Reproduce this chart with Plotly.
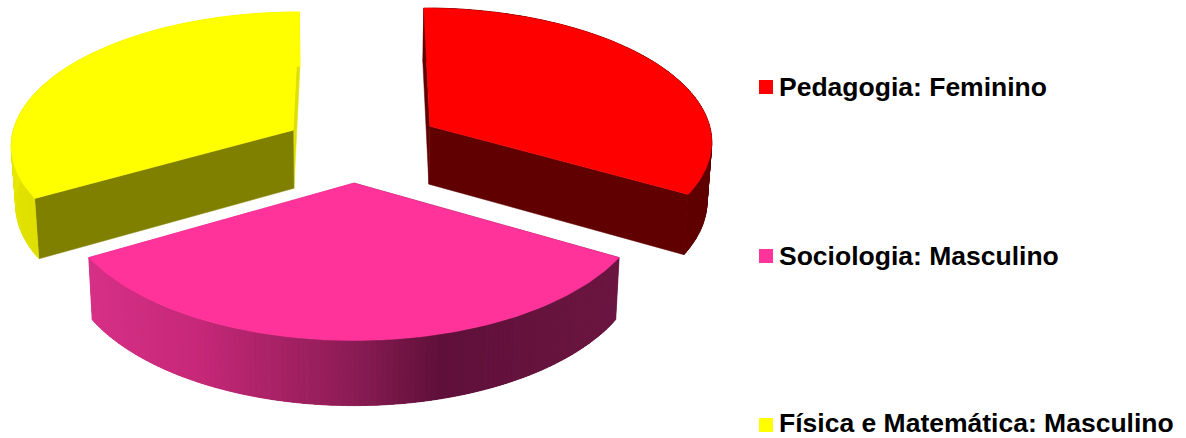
import math
import plotly.graph_objects as go

# Chart data
categories = ["Pedagogia: Feminino", "Sociologia: Masculino", "Física e Matemática: Masculino"]
values = [33.3, 33.3, 33.3]

# Slice styling
top_colors = ["#FF0000", "#FF3399", "#FFFF00"]
start_wall_colors = ["#600000", "#6B1640", "#808000"]
end_wall_colors = ["#600000", "#D6308A", "#E0E000"]
swatch_y = [87, 256, 425]
label_lift = [0, 0, 2]

# Pie geometry: perspective projection of a unit-radius disc seen from the front
CX, CY = 354.0, 144.6
SCALE_X, SCALE_Y = 283.7, 133.5
PERSPECTIVE = 0.10
EXPLODE = 0.28
SLICE_OFFSET = [(8, 0), (0, 0), (7, 4)]
SLICE_WIDTH = [1.0, 0.995, 1.0]
WALL_BANDS = 120
THICK = 58.0


def project(px, py):
    w = 1 + PERSPECTIVE * py
    return SCALE_X * px / w, CY - SCALE_Y * py / w


def pink_wall(x):
    stops = [(88, (214, 48, 135)), (200, (198, 40, 120)), (354, (140, 28, 85)),
             (443, (95, 16, 58)), (619, (107, 22, 64))]
    for (x0, c0), (x1, c1) in zip(stops, stops[1:]):
        if x <= x1:
            t = max(0.0, (x - x0) / (x1 - x0))
            return "rgb(%d,%d,%d)" % tuple(round(a + (b - a) * t) for a, b in zip(c0, c1))
    return "rgb(107,22,64)"


def wall_color(i, x, t):
    if i == 0:
        return "#600000"
    if i == 1:
        return pink_wall(x)
    shade = round(224 + 30 * t)
    return "rgb(%d,%d,0)" % (shade, shade)


fig = go.Figure()


def add_filled(xs, ys, color, edge):
    fig.add_trace(go.Scatter(x=xs, y=ys, mode="lines", fill="toself",
                             fillcolor=color, line=dict(color=color, width=edge),
                             hoverinfo="skip", showlegend=False))


def poly(points, color, edge=0.5):
    xs = [p[0] for p in points]
    ys = [p[1] for p in points]
    add_filled(xs + xs[:1], ys + ys[:1], color, edge)


def wall_quads(top, bottom, color):
    # One sub-polygon per arc step, all wound the same way so overlaps stay filled
    xs, ys = [], []
    for k in range(len(top) - 1):
        quad = [top[k], top[k + 1], bottom[k + 1], bottom[k]]
        area = sum(quad[j][0] * quad[(j + 1) % 4][1] - quad[(j + 1) % 4][0] * quad[j][1]
                   for j in range(4))
        if area < 0:
            quad.reverse()
        quad.append(quad[0])
        xs += [p[0] for p in quad] + [None]
        ys += [p[1] for p in quad] + [None]
    add_filled(xs[:-1], ys[:-1], color, 0.3)


total = sum(values)
start = 0.0
spans = []
for v in values:
    spans.append((start, start + 2 * math.pi * v / total))
    start = spans[-1][1]

# Back slices first, front slice last
for i in [0, 2, 1]:
    a0, a1 = spans[i]
    mid = (a0 + a1) / 2
    ox, oy = EXPLODE * math.sin(mid), EXPLODE * math.cos(mid)
    dx, dy = SLICE_OFFSET[i]
    width = SLICE_WIDTH[i]

    def face_point(r, a):
        x, y = project(ox + r * math.sin(a), oy + r * math.cos(a))
        return (CX + x * width + dx, y + dy)

    def base(p):
        # Foot of the wall below a point of the top face
        return (CX + (p[0] - CX) * 0.987, p[1] + THICK + 0.033 * (p[1] - 127))

    n = WALL_BANDS
    arc = [face_point(1.0, a0 + (a1 - a0) * k / n) for k in range(n + 1)]
    foot = [base(p) for p in arc]
    apex = face_point(0.0, a0)

    # Flat side walls meeting at the slice's apex
    for edge, color in ((arc[-1], end_wall_colors[i]), (arc[0], start_wall_colors[i])):
        poly([apex, edge, base(edge), base(apex)], color)

    # Curved outer wall: every band overlaps the next to hide seams
    for k0 in range(n):
        k1 = min(k0 + 3, n)
        wall_quads(arc[k0:k1 + 1], foot[k0:k1 + 1], wall_color(i, arc[k0][0], k0 / n))

    # Top face
    poly([apex] + arc, top_colors[i])

# Key on the right
fig.add_trace(go.Scatter(x=[766] * 3, y=swatch_y, mode="markers", showlegend=False, hoverinfo="skip",
                         marker=dict(symbol="square", size=14, color=top_colors, line=dict(width=0))))
for name, y, lift in zip(categories, swatch_y, label_lift):
    fig.add_annotation(x=778, y=y, yshift=lift, text=name, showarrow=False, xanchor="left",
                       yanchor="middle", borderpad=0,
                       font=dict(family="Liberation Sans", size=26.5, color="black", weight="bold"))

fig.update_layout(width=1186, height=438, margin=dict(l=0, r=0, t=0, b=0),
                  paper_bgcolor="white", plot_bgcolor="white", showlegend=False,
                  xaxis=dict(range=[0, 1186], visible=False, fixedrange=True),
                  yaxis=dict(range=[438, 0], visible=False, fixedrange=True))
fig.write_html("out.html", config={"displayModeBar": False})
